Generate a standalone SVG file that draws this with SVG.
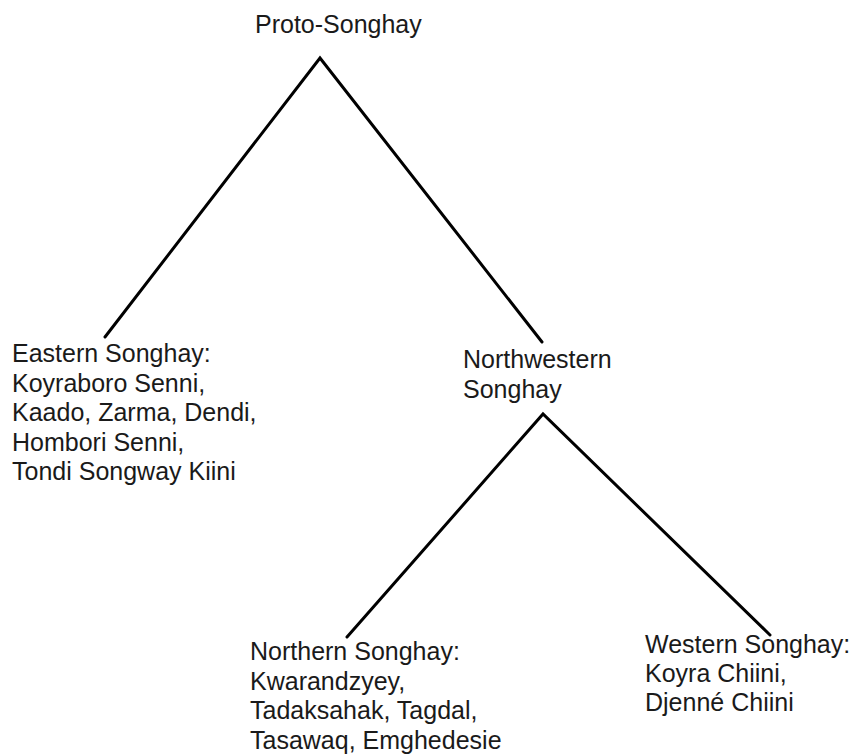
<svg xmlns="http://www.w3.org/2000/svg" width="855" height="756" viewBox="0 0 855 756">
<style>
.t{font-family:"Liberation Sans",Arial,sans-serif;font-size:25px;fill:#1a1a1a}
.c{stroke:#000;stroke-width:3;fill:none;stroke-linecap:round;stroke-linejoin:miter}
</style>
<rect width="855" height="756" fill="#fff"/>
<g id="connectors">
<polyline class="c" points="105,337 320,58 542,342"/>
<polyline class="c" points="347,637 543,414 770,635"/>
</g>
<g id="proto"><text class="t" x="255" y="33">Proto-Songhay</text></g>
<g id="eastern"><text class="t" x="12" y="362">Eastern Songhay:<tspan x="12" dy="29.5">Koyraboro Senni,</tspan><tspan x="12" dy="29.5">Kaado, Zarma, Dendi,</tspan><tspan x="12" dy="29.5">Hombori Senni,</tspan><tspan x="12" dy="29.5">Tondi Songway Kiini</tspan></text></g>
<g id="northwestern"><text class="t" x="463" y="368">Northwestern<tspan x="463" dy="29.5">Songhay</tspan></text></g>
<g id="northern"><text class="t" x="250" y="660">Northern Songhay:<tspan x="250" dy="29.7">Kwarandzyey,</tspan><tspan x="250" dy="29.7">Tadaksahak, Tagdal,</tspan><tspan x="250" dy="29.7">Tasawaq, Emghedesie</tspan></text></g>
<g id="western"><text class="t" x="645" y="653">Western Songhay:<tspan x="645" dy="29">Koyra Chiini,</tspan><tspan x="645" dy="29">Djenné Chiini</tspan></text></g>
</svg>
